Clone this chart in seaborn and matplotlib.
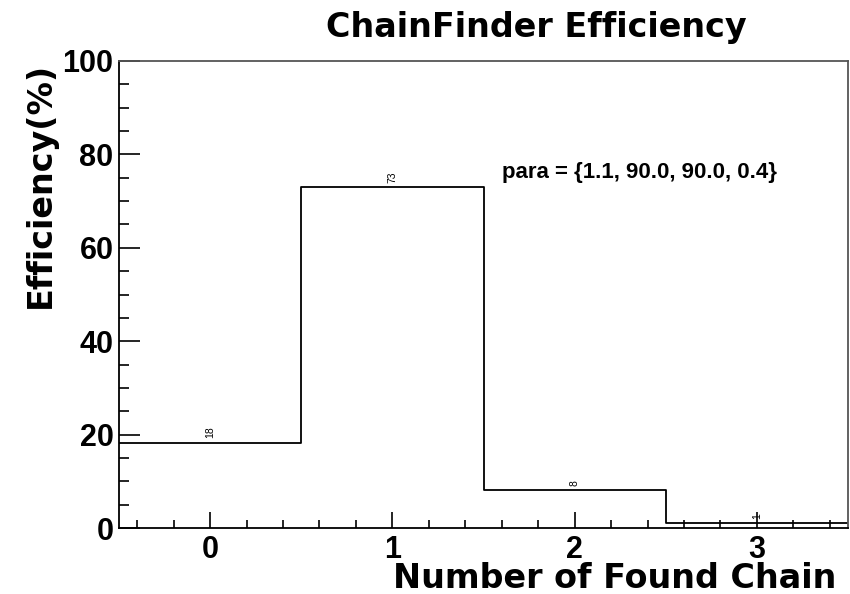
import matplotlib
matplotlib.use("Agg")
import matplotlib.pyplot as plt
import seaborn as sns
import pandas as pd
from matplotlib.ticker import MultipleLocator

categories = [0, 1, 2, 3]
efficiency = [18.3, 73.0, 8.1, 1.1]
bin_labels = ["18", "73", "8", "1"]
title = "ChainFinder Efficiency"
xlabel = "Number of Found Chain"
ylabel = "Efficiency(%)"
para_text = "para = {1.1, 90.0, 90.0, 0.4}"

sns.set_theme(style="white")
plt.rcParams['font.family'] = ['Liberation Sans', 'DejaVu Sans']
plt.rcParams['font.weight'] = 'bold'
for k in ["text.color", "axes.labelcolor", "xtick.color", "ytick.color"]:
    plt.rcParams[k] = "black"

wide = ['DejaVu Sans']
arial = ['Liberation Sans', 'DejaVu Sans']

df = pd.DataFrame({"n": categories, "eff": efficiency})

fig = plt.figure(figsize=(8.5, 5.94), dpi=100)
ax = fig.add_axes([119/850, 1-528/594, (848-119)/850, (528-61)/594])

sns.histplot(data=df, x="n", weights="eff", discrete=True, element="step",
             fill=False, color="black", linewidth=1.3, ax=ax)

for c, v, lab in zip(categories, efficiency, bin_labels):
    ax.annotate(lab, (c, v), xytext=(0, 3), textcoords="offset points",
                rotation=90, ha="center", va="bottom", fontsize=7.5,
                fontweight="normal", family=arial)

ax.set_xlim(-0.5, 3.5)
ax.set_ylim(0, 100)
ax.xaxis.set_major_locator(MultipleLocator(1))
ax.xaxis.set_minor_locator(MultipleLocator(0.2))
ax.yaxis.set_major_locator(MultipleLocator(20))
ax.yaxis.set_minor_locator(MultipleLocator(5))

ax.tick_params(axis="x", which="major", direction="in", length=11.5, width=1.2,
               labelsize=22, pad=5, bottom=True)
ax.tick_params(axis="x", which="minor", direction="in", length=5.8, width=1.2, bottom=True)
ax.tick_params(axis="y", which="major", direction="in", length=15, width=1.2,
               labelsize=22, pad=4, left=True)
ax.tick_params(axis="y", which="minor", direction="in", length=7.5, width=1.2, left=True)
for lab in ax.get_xticklabels() + ax.get_yticklabels():
    lab.set_fontweight("bold")
    lab.set_family(arial)

for s in ["left", "bottom"]:
    ax.spines[s].set_color("black")
    ax.spines[s].set_linewidth(1.3)
for s in ["top", "right"]:
    ax.spines[s].set_color("#555555")
    ax.spines[s].set_linewidth(1.3)

ax.set_xlabel(xlabel, fontsize=24, fontweight="bold", family=wide,
              ha="right", va="baseline")
ax.xaxis.set_label_coords((836-119)/729, (528-588)/467)
ax.set_ylabel(ylabel, fontsize=24, fontweight="bold", family=wide,
              ha="right", va="bottom")
ax.yaxis.set_label_coords((57-119)/729, (528-62)/467)

fig.text(536/850, 1-37/594, title, fontsize=24, fontweight="bold", family=wide,
         ha="center", va="baseline")
fig.text(502/850, 1-178/594, para_text, fontsize=16, fontweight="bold",
         family=arial, ha="left", va="baseline")

fig.savefig("out.png", dpi=100)
